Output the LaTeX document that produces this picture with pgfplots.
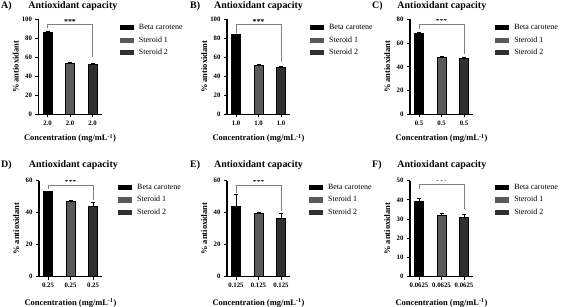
\documentclass[border=0pt]{standalone}
\usepackage{pgfplots}
\pgfplotsset{compat=1.18}
\usepackage{fontspec}
\setmainfont{Liberation Serif}

\definecolor{steroidA}{HTML}{5A5A5A}
\definecolor{steroidB}{HTML}{303030}
\definecolor{bracket}{HTML}{808080}

\pgfplotsset{
  every axis title shift=0pt,
  panel/.style={
    scale only axis,
    width=63bp,
    ybar, bar width=9bp, bar shift=0pt,
    xmin=-0.4, xmax=2.4, ymin=0,
    axis x line*=bottom, axis y line*=left,
    axis line style={line width=1.1bp},
    xtick={0,1,2}, xtick pos=bottom, ytick pos=left,
    tick align=outside, major tick length=3bp,
    tick style={line width=1bp, black},
    /pgf/number format/assume math mode=true,
    tick label style={font=\fontsize{6.8}{7}\selectfont\bfseries},
    xlabel={Concentration (mg/mL\textsuperscript{-1})},
    ylabel={\% antioxidant},
    label style={font=\fontsize{8.5}{9}\selectfont\bfseries},
    ylabel style={at={(axis description cs:-0.36,0.5)}, anchor=center},
    title style={font=\fontsize{10}{11}\selectfont\bfseries, anchor=west},
    legend cell align=left,
    legend style={draw=none, fill=none, inner sep=0pt, anchor=north west,
      font=\fontsize{8}{9}\selectfont, row sep=5.5bp,
      nodes={inner sep=0pt, text height=5.5bp, text depth=1.5bp},
      /tikz/every odd column/.style={column sep=5bp}},
    error bars/y dir=plus, error bars/y explicit,
    error bars/error bar style={line width=0.6bp, black},
    error bars/error mark options={rotate=90, mark size=2bp, line width=0.6bp, black},
  },
  swatch/.style={legend image code/.code={
      \path[##1, draw=none] (0bp,-2.6bp) rectangle (14bp,2.6bp);}},
  beta/.style={fill=black, draw=black, line width=0.6bp, swatch},
  sterA/.style={fill=steroidA, draw=black, line width=0.6bp, swatch},
  sterB/.style={fill=steroidB, draw=black, line width=0.6bp, swatch},
  sig/.style={bracket, line width=0.8bp, sharp plot, forget plot, mark=none, no markers},
}

\newcommand{\stars}[1]{\node[font=\fontsize{8}{8}\selectfont\bfseries, anchor=south, inner sep=0.5bp] at (axis cs:1,#1) {***};}

\begin{document}
\begin{tikzpicture}
\useasboundingbox (0bp,0bp) rectangle (572bp,307bp);

% ---------- top row ----------
\begin{axis}[panel, at={(38.5bp,192.7bp)}, anchor=south west, height=94.8bp,
  ymax=100, ytick={0,20,...,100}, xticklabels={2.0,2.0,2.0},
  title={Antioxidant capacity}, title style={at={(axis description cs:-0.215,1.142)}},
  xlabel style={at={(axis description cs:0.5,-0.255)}, anchor=center},
  legend style={at={(axis description cs:1.29,0.952)}}]
  \addplot[beta] coordinates {(0,87.0) +- (0,1.0)};
  \addplot[sterA] coordinates {(1,54.3) +- (0,0.4)};
  \addplot[sterB] coordinates {(2,52.7) +- (0,1.2)};
  \legend{Beta carotene, Steroid 1, Steroid 2}
  \addplot[sig] coordinates {(0,91) (0,94.5) (2,94.5) (2,60)};
  \stars{94.5}
\end{axis}

\begin{axis}[panel, at={(227bp,192.7bp)}, anchor=south west, height=94.8bp,
  ymax=100, ytick={0,20,...,100}, xticklabels={1.0,1.0,1.0},
  title={Antioxidant capacity}, title style={at={(axis description cs:-0.26,1.142)}},
  xlabel style={at={(axis description cs:0.5,-0.255)}, anchor=center},
  legend style={at={(axis description cs:1.317,0.952)}}]
  \addplot[beta] coordinates {(0,84.0) +- (0,0.5)};
  \addplot[sterA] coordinates {(1,52.0) +- (0,0.8)};
  \addplot[sterB] coordinates {(2,50.0) +- (0,0.5)};
  \legend{Beta carotene, Steroid 1, Steroid 2}
  \addplot[sig] coordinates {(0,86) (0,94.5) (2,94.5) (2,55)};
  \stars{94.5}
\end{axis}

\begin{axis}[panel, at={(410bp,192.7bp)}, anchor=south west, height=94.8bp,
  ymax=80, ytick={0,20,...,80}, xticklabels={0.5,0.5,0.5},
  title={Antioxidant capacity}, title style={at={(axis description cs:-0.255,1.142)}},
  xlabel style={at={(axis description cs:0.5,-0.255)}, anchor=center},
  legend style={at={(axis description cs:1.35,0.952)}}]
  \addplot[beta] coordinates {(0,68.3) +- (0,0.7)};
  \addplot[sterA] coordinates {(1,47.8) +- (0,0.8)};
  \addplot[sterB] coordinates {(2,47.2) +- (0,1.0)};
  \legend{Beta carotene, Steroid 1, Steroid 2}
  \addplot[sig] coordinates {(0,72) (0,76) (2,76) (2,51)};
  \stars{76}
\end{axis}

% ---------- bottom row ----------
\begin{axis}[panel, at={(39bp,30.3bp)}, anchor=south west, height=96bp,
  ymax=60, ytick={0,20,...,60}, xticklabels={0.25,0.25,0.25},
  title={Antioxidant capacity}, title style={at={(axis description cs:-0.215,1.163)}},
  xlabel style={at={(axis description cs:0.5,-0.274)}, anchor=center},
  legend style={at={(axis description cs:1.254,0.968)}}]
  \addplot[beta] coordinates {(0,53.2) +- (0,0.4)};
  \addplot[sterA] coordinates {(1,47.0) +- (0,1.0)};
  \addplot[sterB] coordinates {(2,43.8) +- (0,2.8)};
  \legend{Beta carotene, Steroid 1, Steroid 2}
  \addplot[sig] coordinates {(0,55) (0,57) (2,57) (2,48)};
  \stars{57}
\end{axis}

\begin{axis}[panel, at={(227bp,30.3bp)}, anchor=south west, height=96bp,
  ymax=60, ytick={0,20,...,60}, xticklabels={0.125,0.125,0.125},
  title={Antioxidant capacity}, title style={at={(axis description cs:-0.26,1.163)}},
  xlabel style={at={(axis description cs:0.5,-0.274)}, anchor=center},
  legend style={at={(axis description cs:1.30,0.968)}}]
  \addplot[beta] coordinates {(0,43.7) +- (0,7.8)};
  \addplot[sterA] coordinates {(1,39.6) +- (0,0.4)};
  \addplot[sterB] coordinates {(2,36.6) +- (0,3.2)};
  \legend{Beta carotene, Steroid 1, Steroid 2}
  \addplot[sig] coordinates {(0,52.5) (0,57) (2,57) (2,41)};
  \stars{57}
\end{axis}

\begin{axis}[panel, at={(410bp,30.3bp)}, anchor=south west, height=96bp,
  ymax=50, ytick={0,10,...,50}, xticklabels={0.0625,0.0625,0.0625},
  title={Antioxidant capacity}, title style={at={(axis description cs:-0.255,1.163)}},
  xlabel style={at={(axis description cs:0.5,-0.274)}, anchor=center},
  legend style={at={(axis description cs:1.35,0.968)}}]
  \addplot[beta] coordinates {(0,39.2) +- (0,1.4)};
  \addplot[sterA] coordinates {(1,32.2) +- (0,0.8)};
  \addplot[sterB] coordinates {(2,30.7) +- (0,1.8)};
  \legend{Beta carotene, Steroid 1, Steroid 2}
  \addplot[sig] coordinates {(0,45.5) (0,48) (2,48) (2,35)};
  \stars{48}
\end{axis}

% ---------- panel letters ----------
\begin{scope}[every node/.style={font=\fontsize{10}{11}\selectfont\bfseries, anchor=west, inner sep=0pt}]
  \node at (1bp,301bp) {A)};
  \node at (190bp,301bp) {B)};
  \node at (372bp,301bp) {C)};
  \node at (1bp,142bp) {D)};
  \node at (190bp,142bp) {E)};
  \node at (372bp,142bp) {F)};
\end{scope}
\end{tikzpicture}
\end{document}
